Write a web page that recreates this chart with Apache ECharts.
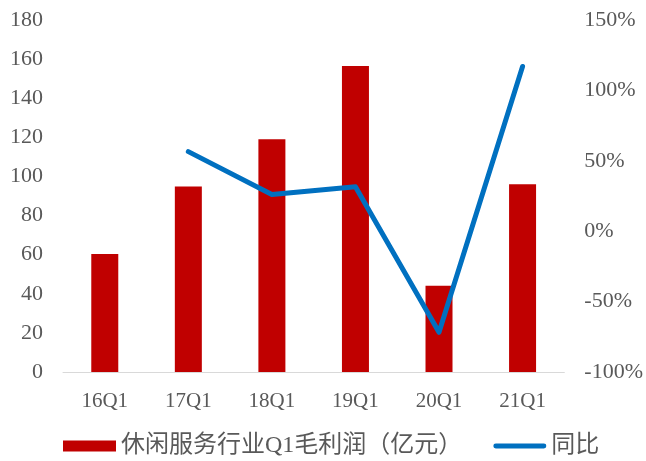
<!DOCTYPE html>
<html>
<head>
<meta charset="utf-8">
<script src="https://cdn.jsdelivr.net/npm/echarts@6/dist/echarts.min.js"></script>
<style>
  html, body { margin: 0; padding: 0; background: #fff; }
  #chart { width: 646px; height: 461px; }
</style>
</head>
<body>
<div id="chart"></div>
<script>
// Quarterly gross profit of the leisure-services sector and its year-on-year change
const quarters = ['16Q1', '17Q1', '18Q1', '19Q1', '20Q1', '21Q1'];
const grossProfit = [60.3, 94.8, 119.0, 156.5, 44.1, 96.0];      // 亿元
const yoyPct = [null, 56.5, 26.0, 31.5, -71.8, 117.0];            // %
const leftTicks = { min: 0, max: 180, interval: 20 };
const rightTicks = { min: -100, max: 150, interval: 50 };

const numFont = "'Liberation Serif', 'Noto Sans CJK SC', serif";
const textGray = '#595959';
// thin rounded bar used as the legend mark of the line series
const lineIcon = 'path://M2.5,0 L51.5,0 A2.5,2.5 0 0 1 51.5,5 L2.5,5 A2.5,2.5 0 0 1 2.5,0 Z';

const chart = echarts.init(document.getElementById('chart'), null, { renderer: 'canvas' });
chart.setOption({
  animation: false,
  backgroundColor: '#ffffff',
  grid: { left: 63, right: 80, top: 20, bottom: 89, containLabel: false },
  legend: {
    left: 63,
    top: 434,
    padding: 0,
    itemWidth: 53,
    itemHeight: 11,
    itemGap: 31,
    textStyle: { fontFamily: numFont, fontSize: 24, color: textGray },
    data: [
      { name: '休闲服务行业Q1毛利润（亿元）', icon: 'rect' },
      { name: '同比', icon: lineIcon }
    ]
  },
  xAxis: {
    type: 'category',
    data: quarters,
    axisLine: { lineStyle: { color: '#D9D9D9', width: 1 } },
    axisTick: { show: false },
    axisLabel: { fontFamily: numFont, fontSize: 21, color: textGray, margin: 19 }
  },
  yAxis: [
    {
      type: 'value',
      min: leftTicks.min, max: leftTicks.max, interval: leftTicks.interval,
      axisLine: { show: false },
      axisTick: { show: false },
      splitLine: { show: false },
      axisLabel: { fontFamily: numFont, fontSize: 22, color: textGray, margin: 20 }
    },
    {
      type: 'value',
      position: 'right',
      min: rightTicks.min, max: rightTicks.max, interval: rightTicks.interval,
      axisLine: { show: false },
      axisTick: { show: false },
      splitLine: { show: false },
      axisLabel: {
        fontFamily: numFont, fontSize: 22, color: textGray, margin: 20,
        formatter: v => v + '%'
      }
    }
  ],
  series: [
    {
      name: '休闲服务行业Q1毛利润（亿元）',
      type: 'bar',
      data: grossProfit,
      barWidth: 27,
      itemStyle: { color: '#C00000' }
    },
    {
      name: '同比',
      type: 'line',
      yAxisIndex: 1,
      data: yoyPct,
      symbol: 'none',
      connectNulls: false,
      lineStyle: { color: '#0070C0', width: 5, cap: 'round', join: 'round' },
      itemStyle: { color: '#0070C0' }
    }
  ]
});
</script>
</body>
</html>
